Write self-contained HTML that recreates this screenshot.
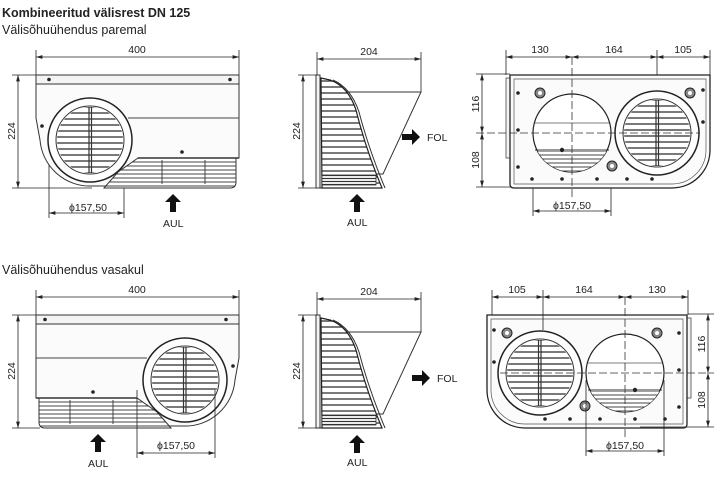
<!DOCTYPE html>
<html><head><meta charset="utf-8"><style>
html,body{margin:0;padding:0;background:#fff;width:720px;height:497px;overflow:hidden}
svg{display:block}
text{font-family:"Liberation Sans",sans-serif;fill:#222}
</style></head><body>
<svg width="720" height="497" viewBox="0 0 720 497" xmlns="http://www.w3.org/2000/svg">
<defs>
<pattern id="hl" width="10" height="6" patternUnits="userSpaceOnUse"><rect width="10" height="6" fill="#fff"/><line x1="0" y1="3" x2="10" y2="3" stroke="#333" stroke-width="1.3"/></pattern>
<pattern id="hl4" width="10" height="4" patternUnits="userSpaceOnUse"><rect width="10" height="4" fill="#fff"/><line x1="0" y1="2" x2="10" y2="2" stroke="#444" stroke-width="1"/></pattern>
<pattern id="hl3" width="10" height="3" patternUnits="userSpaceOnUse"><rect width="10" height="3" fill="#fff"/><line x1="0" y1="1.5" x2="10" y2="1.5" stroke="#333" stroke-width="1.2"/></pattern>
<clipPath id="cc"><circle cx="0" cy="0" r="33"/></clipPath>
<clipPath id="cl"><circle cx="0" cy="0" r="39"/></clipPath>
<marker id="a" viewBox="0 0 10 6" refX="10" refY="3" markerWidth="8" markerHeight="5" orient="auto-start-reverse"><path d="M0,0 L10,3 L0,6 Z" fill="#222"/></marker>
<g id="gr">
<circle r="42" fill="#fff" stroke="#222" stroke-width="1.5"/>
<circle r="34" fill="#fff" stroke="#333" stroke-width="1"/>
<rect x="-34" y="-34" width="68" height="68" fill="url(#hl)" clip-path="url(#cc)"/>
<line x1="-1" y1="-33" x2="-1" y2="33" stroke="#333" stroke-width="1.2"/><line x1="1.5" y1="-33" x2="1.5" y2="33" stroke="#333" stroke-width="1.2"/>
</g>
<g id="arU"><path d="M0,-9 L8,-1 H3 V9 H-3 V-1 H-8 Z" fill="#111"/></g>
<g id="arR"><path d="M9,0 L1,-8 V-3 H-9 V3 H1 V8 Z" fill="#111"/></g>

<g id="sideL">
<rect x="36" y="75" width="203" height="9" fill="#f4f4f4" stroke="#333" stroke-width="1"/>
<circle cx="49" cy="79.5" r="1.8" fill="#222"/><circle cx="230" cy="79.5" r="1.8" fill="#222"/>
<path d="M36,84 H239 V158 H138 L124,172 L118,186 H92 A50,50 0 0 1 40,140 L36,118 Z" fill="#fbfbfb" stroke="#333" stroke-width="1"/>
<line x1="128" y1="118" x2="239" y2="118" stroke="#444" stroke-width="1"/>
<path d="M138,158 H236 V182 Q236,188 230,188 H104 L118,172 Z" fill="url(#hl4)" stroke="#333" stroke-width="1"/>
<line x1="162" y1="160" x2="162" y2="184" stroke="#444"/><line x1="205" y1="160" x2="205" y2="184" stroke="#444"/>
<line x1="138" y1="158" x2="239" y2="158" stroke="#333" stroke-width="1.5"/>
<circle cx="42" cy="126" r="1.8" fill="#222"/><circle cx="182" cy="152" r="1.8" fill="#222"/><circle cx="88" cy="178" r="1.8" fill="#222"/>
<use href="#gr" x="90" y="140"/>
</g>

<g id="mid">
<rect x="316" y="75" width="4" height="113" fill="#f4f4f4" stroke="#333" stroke-width="1"/>
<path d="M345,92 H421 L383,174 H376" fill="none" stroke="#333" stroke-width="1"/>
<path d="M321,78 L330,80 Q348,86 356,110 Q366,150 382,188 H322 Z" fill="url(#hl)" stroke="#222" stroke-width="1.2"/>
<path d="M333,80 Q351,88 359,112 Q369,150 385,188" fill="none" stroke="#333" stroke-width="1"/>
<rect x="322" y="175" width="54" height="10" fill="url(#hl3)" stroke="#333" stroke-width="0.8"/>
<line x1="320" y1="188" x2="382" y2="188" stroke="#222"/>
</g>

<g id="front">
<rect x="506" y="78" width="4" height="80" fill="#f4f4f4" stroke="#444" stroke-width="0.8"/>
<path d="M510,75 H710 V150 A38,38 0 0 1 672,188 H514 Q510,188 510,184 Z" fill="#fbfbfb" stroke="#222" stroke-width="1.3"/>
<path d="M514,79 H706 V150 A34,34 0 0 1 672,184 H514 Z" fill="none" stroke="#555" stroke-width="0.7"/>
<circle cx="572" cy="133" r="39" fill="#fff" stroke="#222" stroke-width="1.2"/>
<g transform="translate(572,133)"><rect x="-39" y="18" width="78" height="22" fill="url(#hl4)" clip-path="url(#cl)"/><line x1="-37" y1="17" x2="37" y2="17" stroke="#333"/><line x1="-37" y1="-10" x2="37" y2="-10" stroke="#555" stroke-width="0.8"/></g>
<use href="#gr" x="657" y="133"/>
<circle cx="540" cy="93" r="5" fill="#888" stroke="#222"/><circle cx="540" cy="93" r="2" fill="#fff"/>
<circle cx="690" cy="93" r="5" fill="#888" stroke="#222"/><circle cx="690" cy="93" r="2" fill="#fff"/>
<circle cx="612" cy="166" r="5" fill="#888" stroke="#222"/><circle cx="612" cy="166" r="2" fill="#fff"/>
<g fill="#222"><circle cx="518" cy="93" r="1.8"/><circle cx="518" cy="130" r="1.8"/><circle cx="518" cy="167" r="1.8"/><circle cx="532" cy="179" r="1.8"/><circle cx="562" cy="179" r="1.8"/><circle cx="597" cy="179" r="1.8"/><circle cx="627" cy="179" r="1.8"/><circle cx="652" cy="179" r="1.8"/><circle cx="703" cy="90" r="1.8"/><circle cx="703" cy="122" r="1.8"/><circle cx="562" cy="150" r="2.2"/></g>
</g>
</defs>

<text x="2" y="17" font-size="12.5" font-weight="bold">Kombineeritud välisrest DN 125</text>
<text x="2" y="34" font-size="12.5">Välisõhuühendus paremal</text>
<text x="2" y="274" font-size="12.5">Välisõhuühendus vasakul</text>

<g stroke="#222" stroke-width="0.8" fill="none">
<line x1="36" y1="50" x2="36" y2="75"/><line x1="239" y1="50" x2="239" y2="75"/>
<line x1="36" y1="57" x2="239" y2="57" marker-start="url(#a)" marker-end="url(#a)"/>
<line x1="12" y1="75" x2="36" y2="75"/><line x1="12" y1="188" x2="92" y2="188"/>
<line x1="18" y1="75" x2="18" y2="188" marker-start="url(#a)" marker-end="url(#a)"/>
<line x1="49" y1="150" x2="49" y2="218"/><line x1="124" y1="150" x2="124" y2="218"/>
<line x1="49" y1="213" x2="124" y2="213" marker-start="url(#a)" marker-end="url(#a)"/>
<line x1="317" y1="52" x2="317" y2="75"/><line x1="421" y1="52" x2="421" y2="92"/>
<line x1="317" y1="59" x2="421" y2="59" marker-start="url(#a)" marker-end="url(#a)"/>
<line x1="298" y1="75" x2="316" y2="75"/><line x1="298" y1="188" x2="320" y2="188"/>
<line x1="303" y1="75" x2="303" y2="188" marker-start="url(#a)" marker-end="url(#a)"/>
<line x1="506" y1="50" x2="506" y2="75"/><line x1="710" y1="50" x2="710" y2="75"/><line x1="657" y1="50" x2="657" y2="92"/>
<line x1="506" y1="57" x2="572" y2="57" marker-start="url(#a)" marker-end="url(#a)"/>
<line x1="572" y1="57" x2="657" y2="57" marker-start="url(#a)" marker-end="url(#a)"/>
<line x1="657" y1="57" x2="710" y2="57" marker-start="url(#a)" marker-end="url(#a)"/>
<line x1="476" y1="74" x2="510" y2="74"/><line x1="476" y1="187" x2="560" y2="187"/>
<line x1="482" y1="74" x2="482" y2="133" marker-start="url(#a)" marker-end="url(#a)"/>
<line x1="482" y1="133" x2="482" y2="187" marker-start="url(#a)" marker-end="url(#a)"/>
<line x1="533" y1="140" x2="533" y2="216"/><line x1="611" y1="140" x2="611" y2="216"/>
<line x1="533" y1="211" x2="611" y2="211" marker-start="url(#a)" marker-end="url(#a)"/>
</g>

<use href="#sideL"/>
<use href="#mid"/>
<use href="#front"/>
<g stroke="#333" stroke-width="0.8" stroke-dasharray="8,3" fill="none">
<line x1="476" y1="133" x2="700" y2="133"/><line x1="572" y1="57" x2="572" y2="200"/>
</g>

<g transform="translate(275,240) scale(-1,1)"><use href="#sideL"/></g>
<g transform="translate(0,240)"><use href="#mid"/></g>
<g transform="translate(1197,240) scale(-1,1)"><use href="#front"/></g>
<g stroke="#333" stroke-width="0.8" stroke-dasharray="8,3" fill="none">
<line x1="500" y1="373" x2="714" y2="373"/><line x1="625" y1="297" x2="625" y2="440"/>
</g>

<g stroke="#222" stroke-width="0.8" fill="none">
<line x1="36" y1="290" x2="36" y2="315"/><line x1="239" y1="290" x2="239" y2="315"/>
<line x1="36" y1="297" x2="239" y2="297" marker-start="url(#a)" marker-end="url(#a)"/>
<line x1="12" y1="315" x2="36" y2="315"/><line x1="12" y1="428" x2="40" y2="428"/>
<line x1="18" y1="315" x2="18" y2="428" marker-start="url(#a)" marker-end="url(#a)"/>
<line x1="137" y1="390" x2="137" y2="458"/><line x1="215" y1="390" x2="215" y2="458"/>
<line x1="137" y1="453" x2="215" y2="453" marker-start="url(#a)" marker-end="url(#a)"/>
<line x1="317" y1="292" x2="317" y2="315"/><line x1="421" y1="292" x2="421" y2="332"/>
<line x1="317" y1="299" x2="421" y2="299" marker-start="url(#a)" marker-end="url(#a)"/>
<line x1="298" y1="315" x2="316" y2="315"/><line x1="298" y1="428" x2="320" y2="428"/>
<line x1="303" y1="315" x2="303" y2="428" marker-start="url(#a)" marker-end="url(#a)"/>
<line x1="492" y1="290" x2="492" y2="315"/><line x1="688" y1="290" x2="688" y2="315"/><line x1="543" y1="290" x2="543" y2="330"/>
<line x1="492" y1="297" x2="543" y2="297" marker-start="url(#a)" marker-end="url(#a)"/>
<line x1="543" y1="297" x2="625" y2="297" marker-start="url(#a)" marker-end="url(#a)"/>
<line x1="625" y1="297" x2="688" y2="297" marker-start="url(#a)" marker-end="url(#a)"/>
<line x1="688" y1="314" x2="714" y2="314"/><line x1="640" y1="427" x2="714" y2="427"/>
<line x1="708" y1="314" x2="708" y2="373" marker-start="url(#a)" marker-end="url(#a)"/>
<line x1="708" y1="373" x2="708" y2="427" marker-start="url(#a)" marker-end="url(#a)"/>
<line x1="586" y1="380" x2="586" y2="456"/><line x1="664" y1="380" x2="664" y2="456"/>
<line x1="586" y1="451" x2="664" y2="451" marker-start="url(#a)" marker-end="url(#a)"/>
</g>

<g font-size="10.5" text-anchor="middle">
<text x="137" y="53">400</text>
<text transform="translate(15,131) rotate(-90)">224</text>
<text x="88" y="211">ϕ157,50</text>
<text x="369" y="55">204</text>
<text transform="translate(300,131) rotate(-90)">224</text>
<text x="540" y="53">130</text><text x="614" y="53">164</text><text x="683" y="53">105</text>
<text transform="translate(479,104) rotate(-90)">116</text>
<text transform="translate(479,160) rotate(-90)">108</text>
<text x="572" y="209">ϕ157,50</text>
<text x="137" y="293">400</text>
<text transform="translate(15,371) rotate(-90)">224</text>
<text x="176" y="449">ϕ157,50</text>
<text x="369" y="295">204</text>
<text transform="translate(300,371) rotate(-90)">224</text>
<text x="517" y="293">105</text><text x="584" y="293">164</text><text x="657" y="293">130</text>
<text transform="translate(705,344) rotate(-90)">116</text>
<text transform="translate(705,400) rotate(-90)">108</text>
<text x="625" y="449">ϕ157,50</text>
</g>
<g font-size="10.5">
<text x="163" y="227">AUL</text><text x="347" y="226">AUL</text><text x="427" y="141">FOL</text>
<text x="88" y="467">AUL</text><text x="347" y="466">AUL</text><text x="437" y="382">FOL</text>
</g>
<use href="#arU" x="173" y="203"/><use href="#arU" x="357" y="203"/><use href="#arR" x="411" y="137"/>
<use href="#arU" x="98" y="443"/><use href="#arU" x="357" y="444"/><use href="#arR" x="421" y="378"/>
</svg>
</body></html>
